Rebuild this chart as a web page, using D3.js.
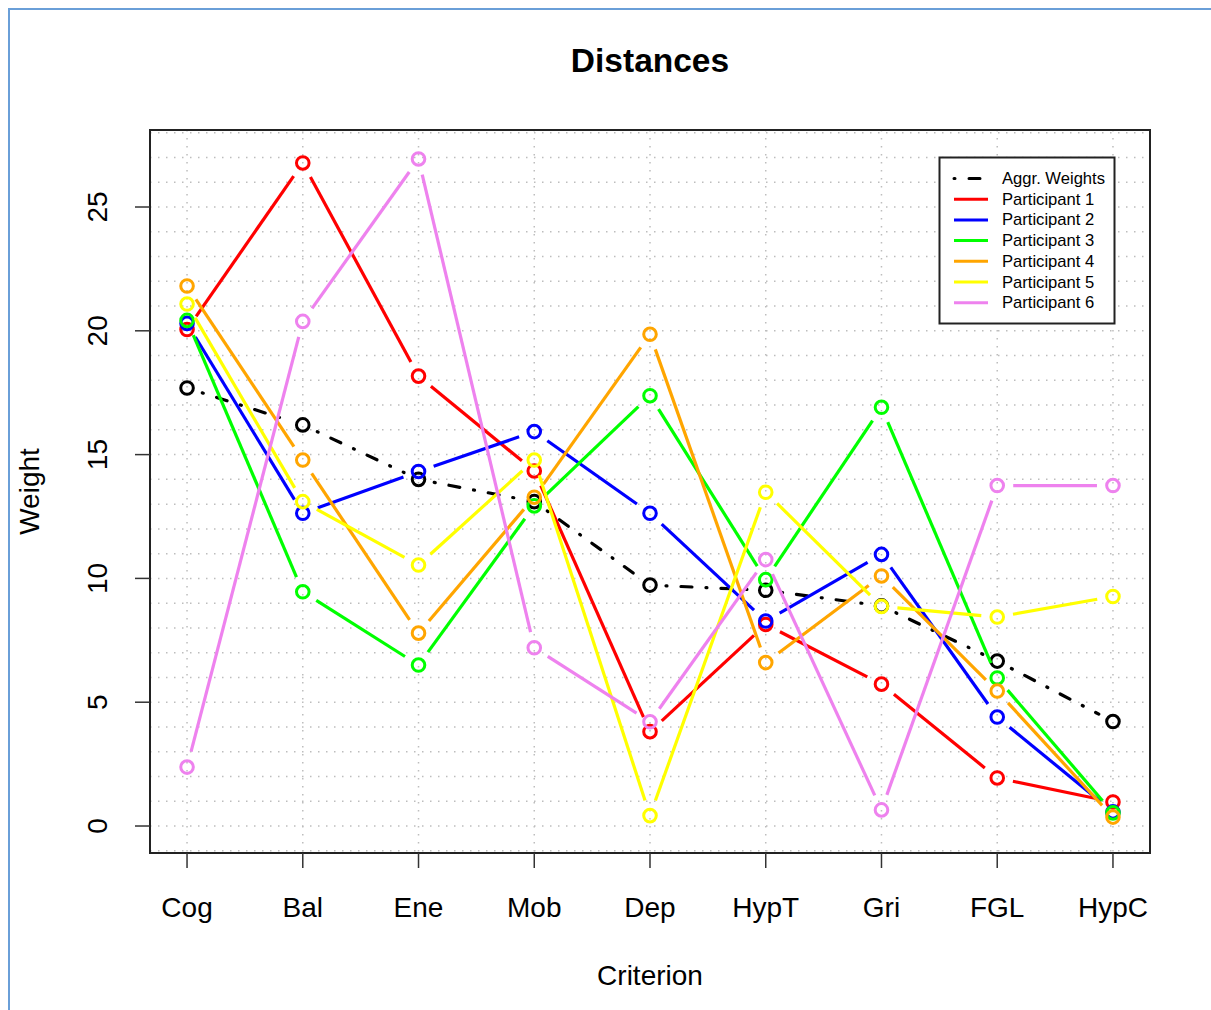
<!DOCTYPE html>
<html>
<head>
<meta charset="utf-8">
<script src="https://cdn.jsdelivr.net/npm/d3@7"></script>
<style>
body { margin: 0; background: #fff; }
svg text { font-family: "Liberation Sans", Arial, sans-serif; }
</style>
</head>
<body>
<svg id="chart"></svg>
<script>
const categories = ["Cog", "Bal", "Ene", "Mob", "Dep", "HypT", "Gri", "FGL", "HypC"];
const aggr = [17.69, 16.2, 14.0, 13.1, 9.73, 9.52, 8.89, 6.66, 4.22];
const p1 = [20.05, 26.78, 18.17, 14.34, 3.81, 8.14, 5.73, 1.94, 0.97];
const p2 = [20.3, 12.63, 14.32, 15.93, 12.63, 8.28, 10.97, 4.4, 0.57];
const p3 = [20.42, 9.46, 6.5, 12.93, 17.38, 9.95, 16.91, 5.98, 0.53];
const p4 = [21.81, 14.78, 7.79, 13.28, 19.86, 6.6, 10.1, 5.45, 0.36];
const p5 = [21.08, 13.1, 10.54, 14.78, 0.42, 13.48, 8.87, 8.44, 9.27];
const p6 = [2.38, 20.38, 26.94, 7.2, 4.21, 10.76, 0.65, 13.75, 13.75];
const yTicks = [0, 5, 10, 15, 20, 25];
const seriesNames = ["Aggr. Weights", "Participant 1", "Participant 2", "Participant 3",
  "Participant 4", "Participant 5", "Participant 6"];
const seriesColors = ["black", "#ff0000", "#0000ff", "#00ff00", "#ffa500", "#ffff00", "#ee82ee"];
const seriesValues = [aggr, p1, p2, p3, p4, p5, p6];

const W = 1211, H = 1010;
const pLeft = 150, pRight = 1150, pTop = 130, pBottom = 853;

const svg = d3.select("#chart")
  .attr("width", W)
  .attr("height", H);

// outer blue frame
svg.append("rect")
  .attr("x", 9).attr("y", 9)
  .attr("width", 1230).attr("height", 1030)
  .attr("fill", "none")
  .attr("stroke", "#6a9fd8")
  .attr("stroke-width", 2);

const x = d3.scaleLinear().domain([0.68, 9.32]).range([pLeft, pRight]);
const y = d3.scaleLinear().domain([-1.09, 28.11]).range([pBottom, pTop]);

// grid
const gridY = d3.range(Math.ceil(y.domain()[0]), Math.floor(y.domain()[1]) + 1);
svg.append("g").selectAll("line")
  .data(gridY)
  .enter()
  .append("line")
  .attr("x1", pLeft).attr("x2", pRight)
  .attr("y1", d => y(d)).attr("y2", d => y(d))
  .attr("stroke", "#bdbdbd")
  .attr("stroke-width", 1.5)
  .attr("stroke-dasharray", "1.5,6.5");
svg.append("g").selectAll("line")
  .data(categories)
  .enter()
  .append("line")
  .attr("x1", (d, i) => x(i + 1)).attr("x2", (d, i) => x(i + 1))
  .attr("y1", pTop).attr("y2", pBottom)
  .attr("stroke", "#bdbdbd")
  .attr("stroke-width", 1.5)
  .attr("stroke-dasharray", "1.5,6.5");

// series, drawn like R's type = "b" (gaps around points)
const gap = 16;
seriesValues.forEach((vals, s) => {
  const pts = vals.map((v, i) => [x(i + 1), y(v)]);
  const segs = [];
  for (let i = 0; i < pts.length - 1; i++) {
    const [ax, ay] = pts[i], [bx, by] = pts[i + 1];
    const len = Math.hypot(bx - ax, by - ay);
    if (len <= 2 * gap) continue;
    const ux = (bx - ax) / len, uy = (by - ay) / len;
    segs.push([ax + ux * gap, ay + uy * gap, bx - ux * gap, by - uy * gap]);
  }
  const g = svg.append("g");
  g.selectAll("line")
    .data(segs)
    .enter()
    .append("line")
    .attr("x1", d => d[0]).attr("y1", d => d[1])
    .attr("x2", d => d[2]).attr("y2", d => d[3])
    .attr("stroke", seriesColors[s])
    .attr("stroke-width", 3.2)
    .attr("stroke-linecap", s === 0 ? "round" : "butt")
    .attr("stroke-dasharray", s === 0 ? "1,14,11,14" : null);
  g.selectAll("circle")
    .data(vals)
    .enter()
    .append("circle")
    .attr("cx", (d, i) => x(i + 1))
    .attr("cy", d => y(d))
    .attr("r", 6.3)
    .attr("fill", "none")
    .attr("stroke", seriesColors[s])
    .attr("stroke-width", 3);
});

// plot box
svg.append("rect")
  .attr("x", pLeft).attr("y", pTop)
  .attr("width", pRight - pLeft).attr("height", pBottom - pTop)
  .attr("fill", "none")
  .attr("stroke", "#222")
  .attr("stroke-width", 2);

// y axis
const ya = svg.append("g");
ya.selectAll("line")
  .data(yTicks)
  .enter()
  .append("line")
  .attr("x1", pLeft - 15).attr("x2", pLeft)
  .attr("y1", d => y(d)).attr("y2", d => y(d))
  .attr("stroke", "#333")
  .attr("stroke-width", 1.5);
ya.selectAll("text")
  .data(yTicks)
  .enter()
  .append("text")
  .attr("transform", d => `translate(107,${y(d)}) rotate(-90)`)
  .attr("text-anchor", "middle")
  .style("font-size", "28px")
  .text(d => d);

// x axis
const xa = svg.append("g");
xa.selectAll("line")
  .data(categories)
  .enter()
  .append("line")
  .attr("x1", (d, i) => x(i + 1)).attr("x2", (d, i) => x(i + 1))
  .attr("y1", pBottom).attr("y2", pBottom + 15)
  .attr("stroke", "#333")
  .attr("stroke-width", 1.5);
xa.selectAll("text")
  .data(categories)
  .enter()
  .append("text")
  .attr("x", (d, i) => x(i + 1))
  .attr("y", 917)
  .attr("text-anchor", "middle")
  .style("font-size", "28px")
  .text(d => d);

// titles
svg.append("text")
  .attr("x", (pLeft + pRight) / 2).attr("y", 72)
  .attr("text-anchor", "middle")
  .style("font-size", "33.5px")
  .style("font-weight", "bold")
  .text("Distances");
svg.append("text")
  .attr("x", (pLeft + pRight) / 2).attr("y", 985)
  .attr("text-anchor", "middle")
  .style("font-size", "28px")
  .text("Criterion");
svg.append("text")
  .attr("transform", `translate(39,${(pTop + pBottom) / 2}) rotate(-90)`)
  .attr("text-anchor", "middle")
  .style("font-size", "28px")
  .text("Weight");

// legend
const lg = svg.append("g");
lg.append("rect")
  .attr("x", 939.5).attr("y", 157.5)
  .attr("width", 175).attr("height", 166)
  .attr("fill", "white")
  .attr("stroke", "#222")
  .attr("stroke-width", 2);
const item = lg.selectAll("g.item")
  .data(seriesNames)
  .enter()
  .append("g")
  .attr("transform", (d, i) => `translate(0,${178.5 + i * 20.7})`);
item.append("line")
  .attr("x1", 954).attr("x2", 988)
  .attr("y1", 0).attr("y2", 0)
  .attr("stroke", (d, i) => seriesColors[i])
  .attr("stroke-width", 3)
  .attr("stroke-linecap", (d, i) => i === 0 ? "round" : "butt")
  .attr("stroke-dasharray", (d, i) => i === 0 ? "1,14,11,14" : null);
item.append("text")
  .attr("x", 1002)
  .attr("y", 5.5)
  .style("font-size", "16.6px")
  .text(d => d);
</script>
</body>
</html>
